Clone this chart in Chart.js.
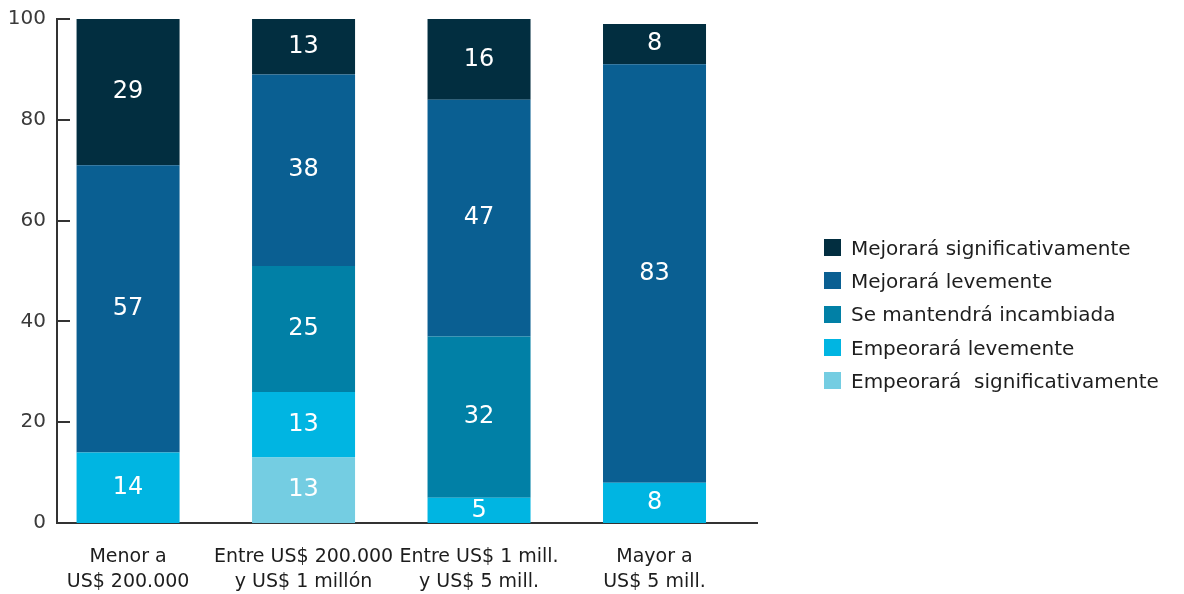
<!DOCTYPE html>
<html>
<head>
<meta charset="utf-8">
<script src="https://cdn.jsdelivr.net/npm/chart.js@4"></script>
<style>
  html, body { margin: 0; padding: 0; background: #fff; }
  #wrap { position: relative; width: 1184px; height: 594px; }
  #leyenda {
    position: absolute; left: 824px; top: 231px;
    margin: 0; padding: 0; list-style: none;
    font-family: "DejaVu Sans", sans-serif; font-size: 20px; color: #1e1e1e;
  }
  #leyenda li { display: flex; align-items: center; height: 33.3px; white-space: pre; }
  #leyenda span.box { display: inline-block; width: 17px; height: 17px; margin-right: 10px; }
</style>
</head>
<body>
<div id="wrap">
  <canvas id="perspectivas"></canvas>
  <ul id="leyenda"></ul>
</div>
<script>
'use strict';

// tramos de ventas
var categories = [
    ['Menor a', 'US$ 200.000'],
    ['Entre US$ 200.000', 'y US$ 1 millón'],
    ['Entre US$ 1 mill.', 'y US$ 5 mill.'],
    ['Mayor a', 'US$ 5 mill.']
];

// porcentajes por respuesta (de abajo hacia arriba en la pila)
var empeoraSignif = [0, 13, 0, 0];
var empeoraLeve = [14, 13, 5, 8];
var seMantiene = [0, 25, 32, 0];
var mejoraLeve = [57, 38, 47, 83];
var mejoraSignif = [29, 13, 16, 8];

var yTicks = [0, 20, 40, 60, 80, 100];

var FONT = '"DejaVu Sans", sans-serif';
var AXIS_COLOR = '#333333';

var colors = ['#74cde2', '#00b5e2', '#0180a6', '#0a5f92', '#022e40'];
var names = [
    'Empeorará  significativamente',
    'Empeorará levemente',
    'Se mantendrá incambiada',
    'Mejorará levemente',
    'Mejorará significativamente'
];
var series = [empeoraSignif, empeoraLeve, seMantiene, mejoraLeve, mejoraSignif];

// valores dentro de cada tramo y marcas del eje y hacia adentro
var decoraciones = {
    id: 'decoraciones',
    afterDatasetsDraw: function(chart) {
        var c = chart.ctx;
        var area = chart.chartArea;
        var yScale = chart.scales.y;
        c.save();
        c.strokeStyle = AXIS_COLOR;
        c.lineWidth = 2;
        yTicks.forEach(function(t) {
            var y = Math.round(yScale.getPixelForValue(t));
            c.beginPath();
            c.moveTo(area.left, y);
            c.lineTo(area.left + 13, y);
            c.stroke();
        });
        c.fillStyle = '#ffffff';
        c.font = '24px ' + FONT;
        c.textAlign = 'center';
        c.textBaseline = 'middle';
        chart.data.datasets.forEach(function(ds, i) {
            var meta = chart.getDatasetMeta(i);
            meta.data.forEach(function(bar, j) {
                var v = ds.data[j];
                if (!v) return;
                var top = Math.max(bar.y, area.top);
                c.fillText(String(v), bar.x, (top + bar.base) / 2);
            });
        });
        c.restore();
    }
};

// leyenda en html, en orden inverso al apilado
var leyendaHtml = {
    id: 'leyendaHtml',
    afterUpdate: function(chart) {
        var ul = document.getElementById('leyenda');
        ul.innerHTML = '';
        var items = chart.options.plugins.legend.labels.generateLabels(chart).reverse();
        items.forEach(function(item) {
            var li = document.createElement('li');
            var box = document.createElement('span');
            box.className = 'box';
            box.style.background = item.fillStyle;
            li.appendChild(box);
            li.appendChild(document.createTextNode(item.text));
            ul.appendChild(li);
        });
    }
};

var ctx = document.getElementById('perspectivas').getContext('2d');
var chart = new Chart(ctx, {
    type: 'bar',
    data: {
        labels: categories.map(function(c, i) { return i; }),
        datasets: series.map(function(d, i) {
            return {
                label: names[i],
                data: d,
                backgroundColor: colors[i],
                borderWidth: 0,
                categoryPercentage: 1,
                barPercentage: 0.587
            };
        })
    },
    options: {
        responsive: true,
        maintainAspectRatio: false,
        animation: false,
        layout: { padding: { top: 19, right: 427, bottom: 0, left: 0 } },
        plugins: {
            tooltip: { enabled: false },
            legend: { display: false }
        },
        scales: {
            x: {
                type: 'linear',
                stacked: true,
                offset: false,
                min: -0.405,
                max: 3.584,
                afterBuildTicks: function(scale) {
                    scale.ticks = categories.map(function(c, i) { return { value: i }; });
                },
                afterFit: function(scale) { scale.height = 71; },
                grid: { display: false, drawTicks: false },
                border: { display: true, color: AXIS_COLOR, width: 2 },
                ticks: {
                    autoSkip: false,
                    maxRotation: 0,
                    padding: 21,
                    color: '#1d1d1d',
                    font: { family: FONT, size: 19, lineHeight: 1.35 },
                    callback: function(value) { return categories[value]; }
                }
            },
            y: {
                stacked: true,
                min: 0,
                max: 100,
                afterBuildTicks: function(scale) {
                    scale.ticks = yTicks.map(function(v) { return { value: v }; });
                },
                afterFit: function(scale) {
                    scale.width = 57;
                    scale.paddingTop = 0;
                },
                grid: { display: false, drawTicks: false },
                border: { display: true, color: AXIS_COLOR, width: 2 },
                ticks: {
                    padding: 11,
                    color: '#3a3a3a',
                    font: { family: FONT, size: 20 }
                }
            }
        }
    },
    plugins: [decoraciones, leyendaHtml]
});
</script>
</body>
</html>
